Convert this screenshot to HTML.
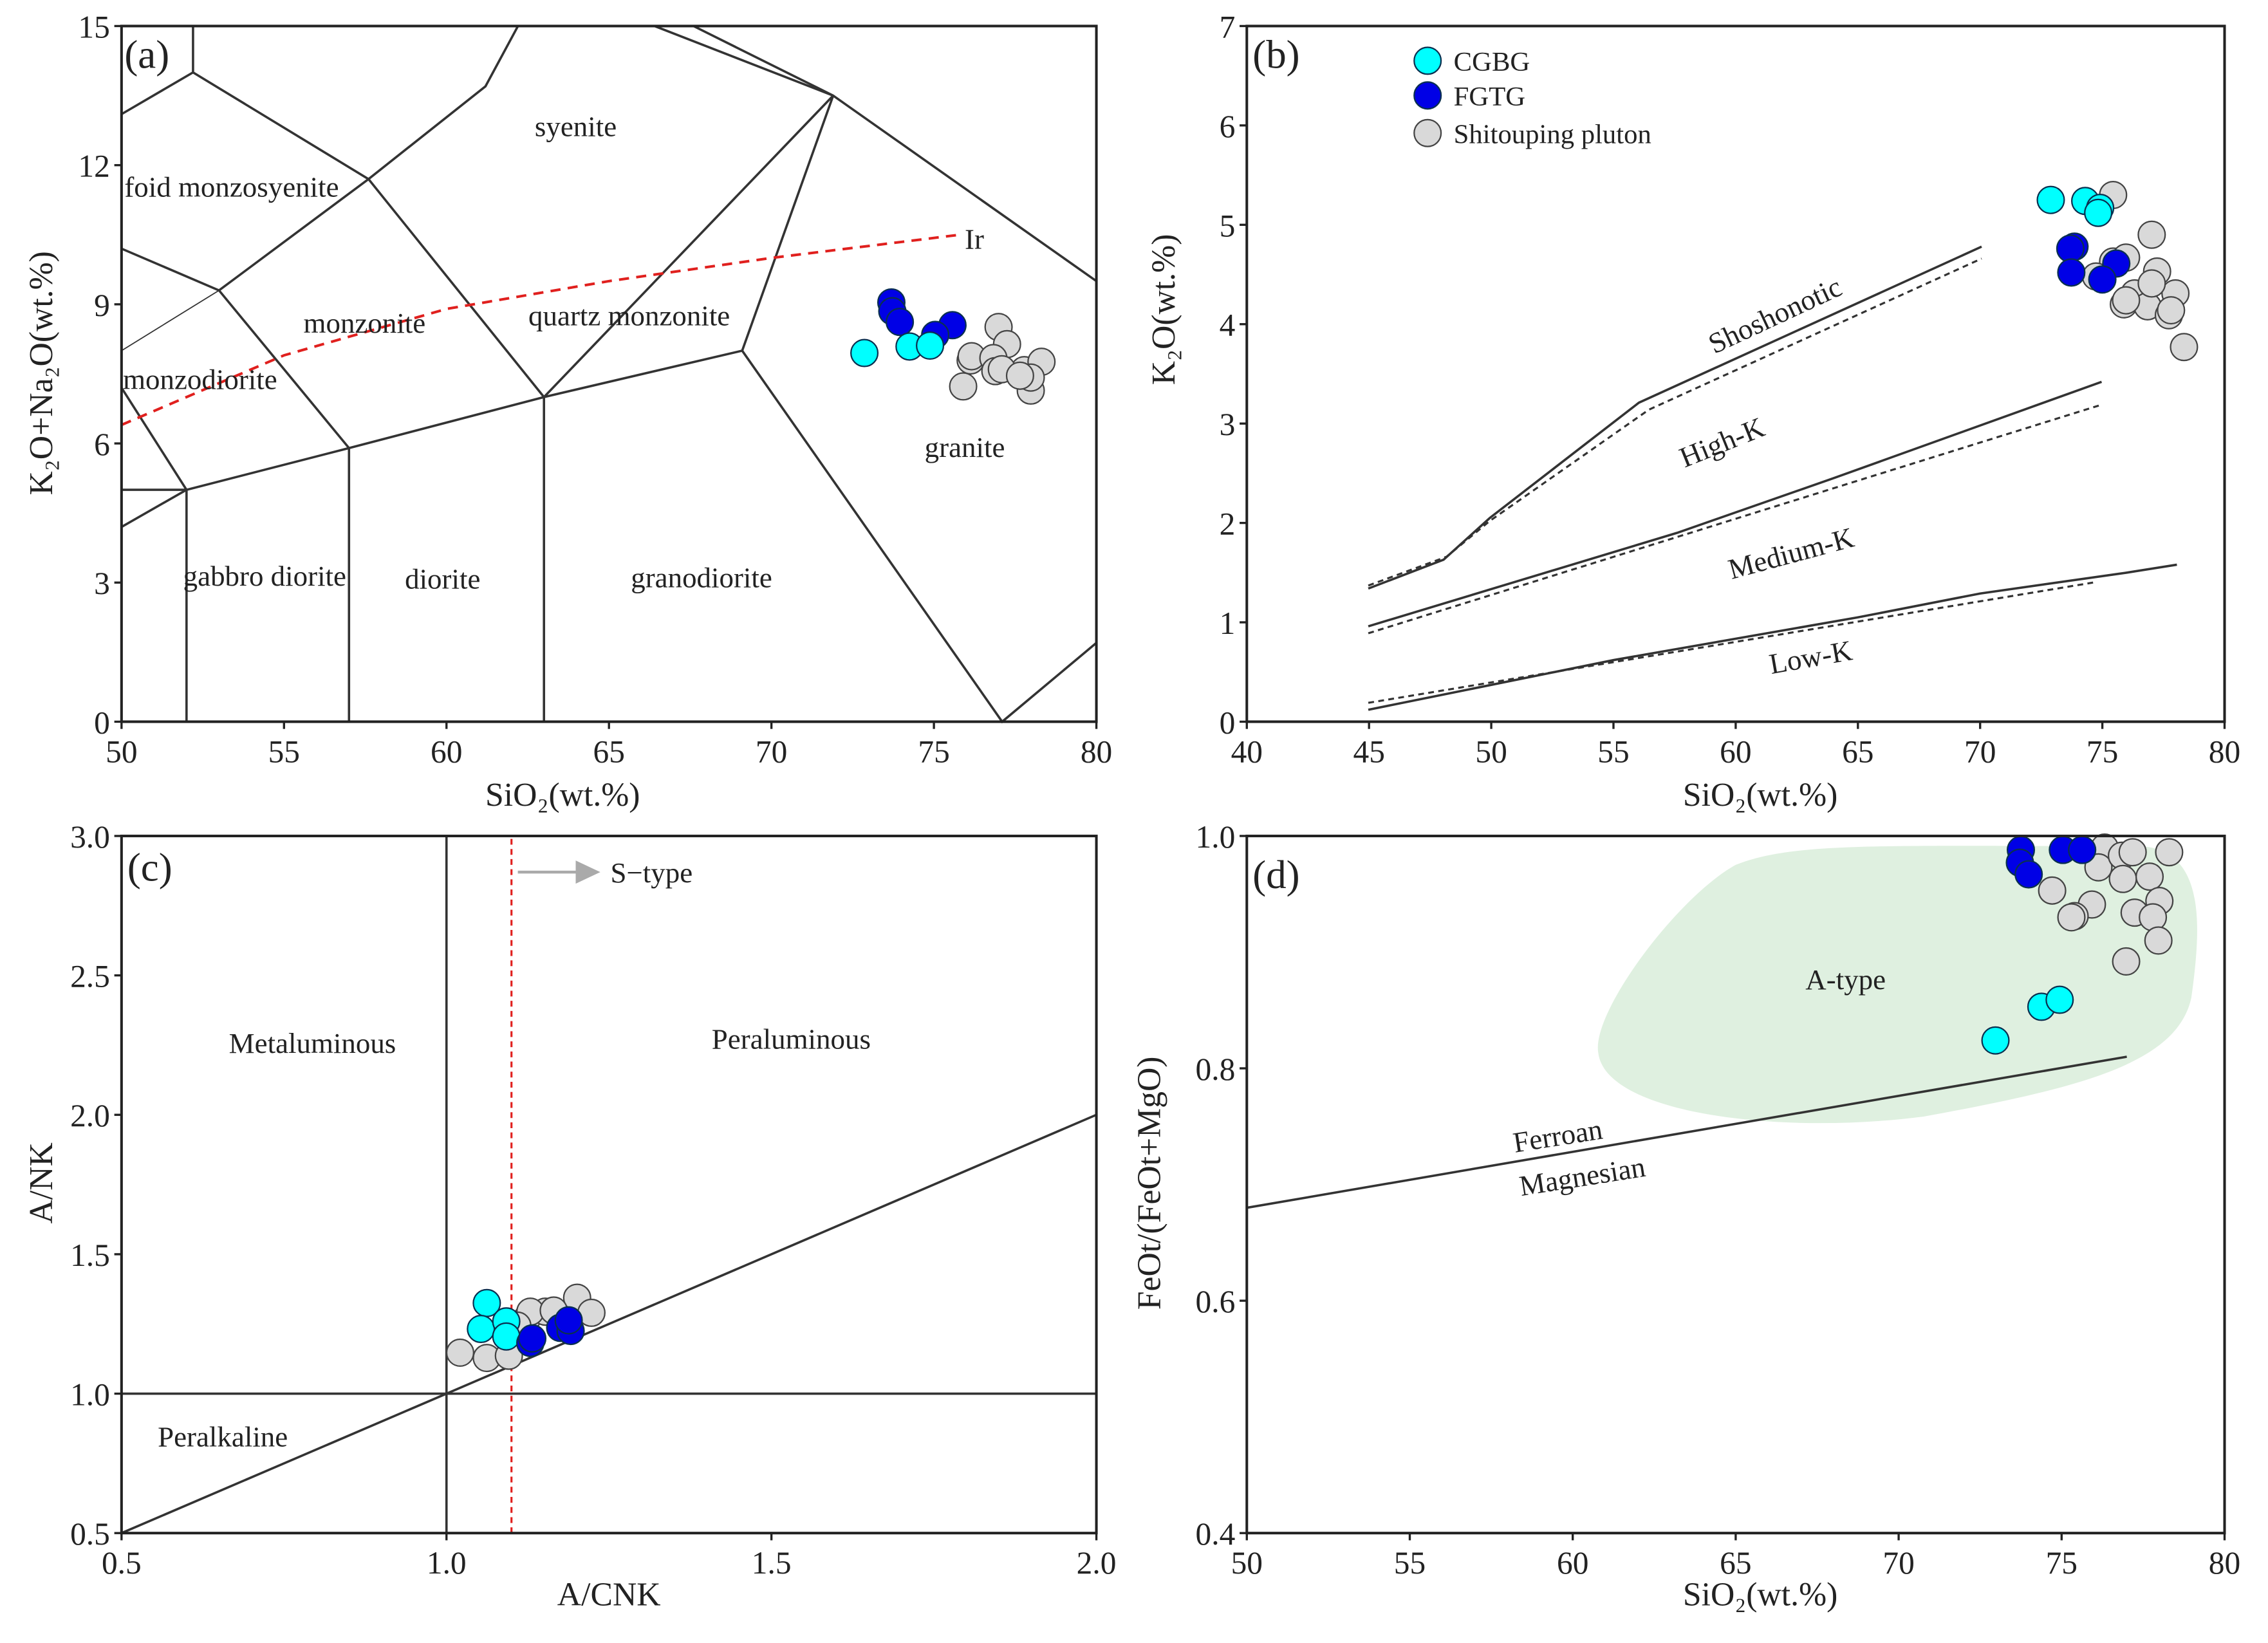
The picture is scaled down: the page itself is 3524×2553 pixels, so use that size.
<!DOCTYPE html>
<html><head><meta charset="utf-8"><style>
html,body{margin:0;padding:0;background:#fff;}
svg{display:block;font-family:"Liberation Serif",serif;}
</style></head><body>
<svg id="fig" xmlns="http://www.w3.org/2000/svg" width="3524" height="2553" viewBox="0 0 1568 1136">
<rect width="1568" height="1136" fill="#fff"/>
<g id="layer"></g>
</svg>
<script>
// ---------- DATA ----------
// Panel (a) TAS: SiO2, K2O+Na2O
const aCgbgX=[72.86,74.25,74.88];
const aCgbgY=[7.95,8.09,8.11];
const aFgtgX=[73.69,73.72,73.95,75.57,75.04];
const aFgtgY=[9.04,8.85,8.62,8.55,8.34];
const aStpX=[76.99,77.25,75.9,76.13,76.16,76.83,76.89,77.78,78.31,77.98,77.98,77.09,77.65];
const aStpY=[8.51,8.14,7.23,7.79,7.88,7.84,7.56,7.58,7.76,7.14,7.42,7.6,7.46];
// Panel (b): SiO2, K2O
const bCgbgX=[72.89,74.3,74.91,74.83];
const bCgbgY=[5.25,5.24,5.17,5.12];
const bFgtgX=[73.86,73.69,73.73,75.57,75.0];
const bFgtgY=[4.78,4.76,4.52,4.61,4.45];
const bStpX=[75.44,77.02,75.44,75.97,74.74,77.24,76.32,77.99,75.88,76.85,77.72,77.81,78.34,77.02,75.97];
const bStpY=[5.30,4.90,4.63,4.67,4.48,4.53,4.31,4.31,4.20,4.18,4.09,4.14,3.77,4.41,4.24];
// Panel (c): A/CNK, A/NK
const cCgbgX=[1.062,1.053,1.092,1.092];
const cCgbgY=[1.325,1.232,1.259,1.205];
const cFgtgX=[1.129,1.132,1.175,1.191,1.188];
const cFgtgY=[1.182,1.198,1.236,1.225,1.263];
const cStpX=[1.021,1.062,1.096,1.125,1.152,1.201,1.223,1.129,1.165,1.109];
const cStpY=[1.147,1.128,1.136,1.274,1.294,1.344,1.290,1.294,1.298,1.244];
// Panel (d): SiO2, FeOt/(FeOt+MgO)
const dCgbgX=[72.97,74.38,74.94];
const dCgbgY=[0.824,0.853,0.859];
const dFgtgX=[73.75,75.04,75.63,73.72,73.99];
const dFgtgY=[0.988,0.988,0.988,0.977,0.967];
const dStpX=[76.32,76.13,76.85,77.18,78.30,76.88,77.70,78.0,74.71,75.93,75.40,75.30,77.24,77.80,77.97,76.98];
const dStpY=[0.990,0.973,0.983,0.986,0.986,0.963,0.965,0.944,0.953,0.941,0.931,0.930,0.934,0.930,0.910,0.892];
// tick labels
const aXTicks=[50,55,60,65,70,75,80];
const aYTicks=[0,3,6,9,12,15];
const bXTicks=[40,45,50,55,60,65,70,75,80];
const bYTicks=[0,1,2,3,4,5,6,7];
const cXTicks=["0.5","1.0","1.5","2.0"];
const cYTicks=["0.5","1.0","1.5","2.0","2.5","3.0"];
const dXTicks=[50,55,60,65,70,75,80];
const dYTicks=["0.4","0.6","0.8","1.0"];

// ---------- HELPERS ----------
const NS="http://www.w3.org/2000/svg";
const L=document.getElementById('layer');
function mk(tag,attrs,parent){const e=document.createElementNS(NS,tag);for(const k in attrs)e.setAttribute(k,attrs[k]);(parent||L).appendChild(e);return e;}
function txt(x,y,s,size,anchor,parent,rot){const t=mk('text',{x:x,y:y,'font-size':size,'text-anchor':anchor||'middle',fill:'#222'},parent);if(rot)t.setAttribute('transform','rotate('+rot+' '+x+' '+y+')');t.textContent=s;return t;}
function axis(x0,x1,y0,y1,px0,px1,py0,py1){return{x:v=>px0+(v-x0)/(x1-x0)*(px1-px0),y:v=>py0+(v-y0)/(y1-y0)*(py1-py0)};}
function poly(A,pts,g,style){return mk('polyline',Object.assign({points:pts.map(p=>A.x(p[0])+','+A.y(p[1])).join(' '),fill:'none',stroke:'#333','stroke-width':1.6},style||{}),g);}
function frame(g,A,box,xt,yt){
  mk('rect',{x:box[0],y:box[1],width:box[2]-box[0],height:box[3]-box[1],fill:'none',stroke:'#222','stroke-width':1.8},g);
  xt.forEach(v=>{const X=A.x(+v);mk('line',{x1:X,y1:box[3],x2:X,y2:box[3]+5,stroke:'#222','stroke-width':1.5},g);const t=txt(X,box[3]+28,String(v),22,'middle',g);});
  yt.forEach(v=>{const Y=A.y(+v);mk('line',{x1:box[0]-5,y1:Y,x2:box[0],y2:Y,stroke:'#222','stroke-width':1.5},g);const t=txt(box[0]-8,Y+8,String(v),22,'end',g);});
}
function pts(A,xs,ys,fill,g,name){xs.forEach((v,i)=>{const c=mk('circle',{cx:A.x(v),cy:A.y(ys[i]),r:9.3,fill:fill,stroke:fill==='#d9d9d9'?'#444':'#0a3050','stroke-width':1},g);
  
  });}
const CY='#00ffff',BL='#0000e6',GR='#d9d9d9';

// ---------- PANEL A ----------
(function(){
const g=mk('g',{});


const A=axis(50,80,0,15,84,758,499,18);
const lines=[
 [[50,13.1],[52.2,14.0],[52.2,15]],
 [[52.2,14.0],[57.6,11.7],[61.2,13.7],[62.2,15]],
 [[57.6,11.7],[53,9.3],[57,5.9]],
 [[50,10.2],[53,9.3]],
 [[50,7.2],[52,5.0],[50,4.2]],
 [[50,5.0],[52,5.0]],
 [[52,0],[52,5.0],[57,5.9],[63,7.0],[69.1,8.0],[77.1,0],[80,1.7]],
 [[57,0],[57,5.9]],
 [[63,0],[63,7.0]],
 [[57.6,11.7],[63,7.0],[71.9,13.5],[69.1,8.0]],
 [[66.4,15],[71.9,13.5],[80,9.5]],
 [[71.9,13.5],[67.6,15]]
];
lines.forEach(l=>poly(A,l,g));
poly(A,[[53,9.3],[50,8.0]],g,{'stroke-width':0.8});
poly(A,[[50,6.4],[52,7.0],[55,7.9],[60,8.9],[65,9.5],[70,10.0],[75.8,10.5]],g,{stroke:'#e0201e','stroke-dasharray':'7,5','stroke-width':1.8});
txt(667,172,'Ir',20,'start',g);
[['syenite',398,94,'middle'],['foid monzosyenite',86,136,'start'],['monzonite',252,230,'middle'],['quartz monzonite',435,225,'middle'],['monzodiorite',85,269,'start'],['gabbro diorite',183,405,'middle'],['diorite',306,407,'middle'],['granodiorite',485,406,'middle'],['granite',667,316,'middle']].forEach(a=>{const t=txt(a[1],a[2],a[0],20,a[3],g);});
pts(A,aStpX,aStpY,GR,g,'shitouping-point');
pts(A,aFgtgX,aFgtgY,BL,g,'fgtg-point');
pts(A,aCgbgX,aCgbgY,CY,g,'cgbg-point');
frame(g,A,[84,18,758,499],aXTicks,aYTicks);
txt(86,47,'(a)',28,'start',g);
const yt=txt(36,258,'K₂O+Na₂O(wt.%)',23,'middle',g,-90);

txt(389,557,'SiO₂(wt.%)',23,'middle',g);
})();

// ---------- PANEL B ----------
(function(){
const g=mk('g',{});


const A=axis(40,80,0,7,862,1538,499,18);
poly(A,[[44.97,1.34],[48.05,1.63],[49.94,2.05],[56.04,3.21],[70.06,4.78]],g);
poly(A,[[44.97,1.37],[48.17,1.66],[49.94,2.02],[56.45,3.14],[70.06,4.66]],g,{'stroke-dasharray':'4,3','stroke-width':1.4});
poly(A,[[44.97,0.96],[57.6,1.90],[64,2.45],[74.97,3.42]],g);
poly(A,[[44.97,0.89],[74.97,3.19]],g,{'stroke-dasharray':'4,3','stroke-width':1.4});
poly(A,[[44.97,0.12],[55,0.62],[65,1.05],[70,1.29],[76,1.50],[78.05,1.58]],g);
poly(A,[[44.97,0.19],[74.62,1.40]],g,{'stroke-dasharray':'4,3','stroke-width':1.4});
txt(1230,224,'Shoshonotic',20,'middle',g,-25);
txt(1193,312,'High-K',20,'middle',g,-22);
txt(1240,389,'Medium-K',20,'middle',g,-15);
txt(1253,461,'Low-K',20,'middle',g,-10);
pts(A,bStpX,bStpY,GR,g,'shitouping-point');
pts(A,bFgtgX,bFgtgY,BL,g,'fgtg-point');
pts(A,bCgbgX,bCgbgY,CY,g,'cgbg-point');
frame(g,A,[862,18,1538,499],bXTicks,bYTicks);
txt(866,47,'(b)',28,'start',g);
txt(812,214,'K₂O(wt.%)',23,'middle',g,-90);
txt(1217,557,'SiO₂(wt.%)',23,'middle',g);
const lg=mk('g',{},g);


[[CY,'CGBG',42],[BL,'FGTG',66],[GR,'Shitouping pluton',92]].forEach(e=>{mk('circle',{cx:987,cy:e[2],r:9.3,fill:e[0],stroke:e[0]===GR?'#444':'#0a3050','stroke-width':1},lg);txt(1005,e[2]+7,e[1],19,'start',lg);});
})();

// ---------- PANEL C ----------
(function(){
const g=mk('g',{});


const A=axis(0.5,2.0,0.5,3.0,84,758,1060,578);
poly(A,[[1,0.5],[1,3.0]],g);
poly(A,[[0.5,1],[2.0,1]],g);
poly(A,[[0.5,0.5],[2.0,2.0]],g);
poly(A,[[1.1,0.5],[1.1,3.0]],g,{stroke:'#e0201e','stroke-dasharray':'4,3','stroke-width':1.4});
mk('line',{x1:358,y1:603,x2:402,y2:603,stroke:'#aaa','stroke-width':2},g);
mk('polygon',{points:'398,595 415,603 398,611',fill:'#aaa'},g);
txt(422,610,'S−type',20,'start',g);
txt(216,728,'Metaluminous',20,'middle',g);
txt(547,725,'Peraluminous',20,'middle',g);
txt(154,1000,'Peralkaline',20,'middle',g);
pts(A,cStpX,cStpY,GR,g,'shitouping-point');
pts(A,cCgbgX,cCgbgY,CY,g,'cgbg-point');
pts(A,cFgtgX,cFgtgY,BL,g,'fgtg-point');
frame(g,A,[84,578,758,1060],cXTicks,cYTicks);
txt(88,609,'(c)',28,'start',g);
txt(36,818,'A/NK',23,'middle',g,-90);
txt(421,1110,'A/CNK',23,'middle',g);
})();

// ---------- PANEL D ----------
(function(){
const g=mk('g',{});


const A=axis(50,80,0.4,1.0,862,1538,1060,578);
const blob=mk('path',{d:'M1105,728 C1100,700 1160,620 1200,598 C1240,582 1300,585 1480,585 C1525,588 1522,640 1515,690 C1505,735 1440,752 1330,772 C1230,785 1110,770 1105,728 Z',fill:'#dff0e0'},g);


txt(1276,684,'A-type',20,'middle',g);
poly(A,[[50,0.68],[77,0.81]],g);
txt(1078,792,'Ferroan',20,'middle',g,-9);
txt(1095,820,'Magnesian',20,'middle',g,-9);
pts(A,dStpX,dStpY,GR,g,'shitouping-point');
pts(A,dFgtgX,dFgtgY,BL,g,'fgtg-point');
pts(A,dCgbgX,dCgbgY,CY,g,'cgbg-point');
frame(g,A,[862,578,1538,1060],dXTicks,dYTicks);
txt(866,614,'(d)',28,'start',g);
txt(802,818,'FeOt/(FeOt+MgO)',23,'middle',g,-90);
txt(1217,1110,'SiO₂(wt.%)',23,'middle',g);
})();
</script>
</body></html>
